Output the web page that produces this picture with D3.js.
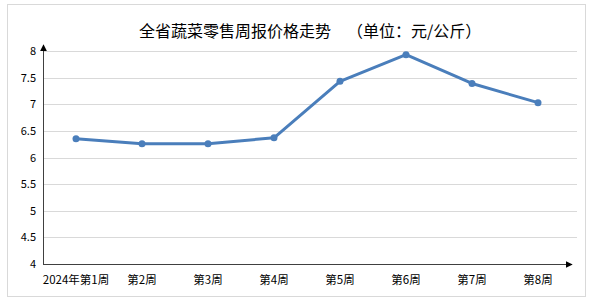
<!DOCTYPE html>
<html>
<head>
<meta charset="utf-8">
<script src="https://cdn.jsdelivr.net/npm/d3@7"></script>
<style>
  body { margin: 0; background: #fff; }
  text { font-family: "Noto Sans CJK SC", "Noto Sans", sans-serif; }
</style>
</head>
<body>
<svg width="596" height="306"></svg>
<script>
var weeks = ["2024年第1周", "第2周", "第3周", "第4周", "第5周", "第6周", "第7周", "第8周"];
var prices = [6.35, 6.26, 6.26, 6.37, 7.43, 7.93, 7.39, 7.03];
var yTicks = [4, 4.5, 5, 5.5, 6, 6.5, 7, 7.5, 8];

var svg = d3.select("svg");

// outer frame
svg.append("rect")
  .attr("x", 7.5).attr("y", 4.5)
  .attr("width", 578).attr("height", 292)
  .attr("fill", "#fff")
  .attr("stroke", "#d9d9d9");

svg.append("text")
  .attr("x", 139).attr("y", 37)
  .style("font-size", "16px")
  .attr("fill", "#000")
  .text("全省蔬菜零售周报价格走势");

svg.append("text")
  .attr("x", 347).attr("y", 37)
  .style("font-size", "16px")
  .attr("fill", "#000")
  .text("（单位：元/公斤）");

var x = d3.scaleBand().domain(weeks).range([43, 571]);
var y = d3.scaleLinear().domain([4, 8]).range([264, 51]);

// gridlines
svg.append("g")
  .selectAll("line")
  .data(yTicks.slice(1))
  .enter().append("line")
  .attr("x1", 43).attr("x2", 577)
  .attr("y1", function (d) { return Math.round(y(d)) + 0.5; })
  .attr("y2", function (d) { return Math.round(y(d)) + 0.5; })
  .attr("stroke", "#d9d9d9");

// y labels
svg.append("g")
  .selectAll("text")
  .data(yTicks)
  .enter().append("text")
  .attr("x", 36)
  .attr("y", function (d) { return y(d) + 4; })
  .attr("text-anchor", "end")
  .style("font-size", "11px")
  .attr("fill", "#000")
  .text(function (d) { return d; });

// x labels
svg.append("g")
  .selectAll("text")
  .data(weeks)
  .enter().append("text")
  .attr("x", function (d) { return x(d) + x.bandwidth() / 2; })
  .attr("y", 284)
  .attr("text-anchor", "middle")
  .style("font-size", "11.5px")
  .attr("fill", "#000")
  .text(function (d) { return d; });

// axes with arrows
var defs = svg.append("defs");
defs.append("marker")
  .attr("id", "arrow")
  .attr("viewBox", "0 -5 10 10")
  .attr("refX", 9).attr("refY", 0)
  .attr("markerWidth", 7).attr("markerHeight", 7)
  .attr("markerUnits", "userSpaceOnUse")
  .attr("orient", "auto")
  .append("path")
  .attr("d", "M0,-5L10,0L0,5Z")
  .attr("fill", "#000");

svg.append("line")
  .attr("x1", 43.5).attr("y1", 264.5)
  .attr("x2", 43.5).attr("y2", 45)
  .attr("stroke", "#404040")
  .attr("marker-end", "url(#arrow)");

svg.append("line")
  .attr("x1", 43).attr("y1", 264.5)
  .attr("x2", 572).attr("y2", 264.5)
  .attr("stroke", "#404040")
  .attr("marker-end", "url(#arrow)");

var line = d3.line()
  .x(function (d, i) { return x(weeks[i]) + x.bandwidth() / 2; })
  .y(function (d) { return y(d); });

svg.append("path")
  .datum(prices)
  .attr("d", line)
  .attr("fill", "none")
  .attr("stroke", "#4a7ebb")
  .attr("stroke-width", 3)
  .attr("stroke-linejoin", "round");

svg.append("g")
  .selectAll("circle")
  .data(prices)
  .enter().append("circle")
  .attr("cx", function (d, i) { return x(weeks[i]) + x.bandwidth() / 2; })
  .attr("cy", function (d) { return y(d); })
  .attr("r", 3.5)
  .attr("fill", "#4a7ebb");
</script>
</body>
</html>
